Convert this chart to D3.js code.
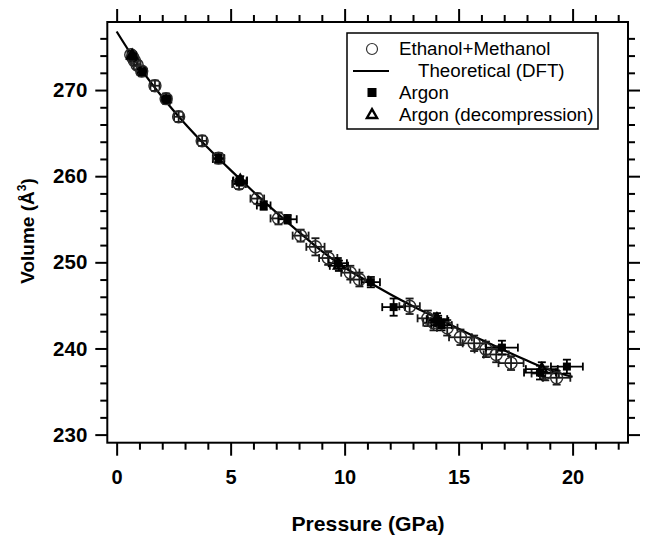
<!DOCTYPE html>
<html>
<head>
<meta charset="utf-8">
<script src="https://cdn.jsdelivr.net/npm/d3@7"></script>
<style>
  body { margin: 0; background: #fff; }
  text { font-family: "Liberation Sans", Arial, sans-serif; fill: #000; }
  .tick line { stroke: #000; stroke-width: 2px; }
  .axis text { font-weight: bold; }
</style>
</head>
<body>
<svg width="645" height="535"></svg>
<script>
// **** data ****

// Ethanol+Methanol (open circles)
var emP    = [0.62, 0.70, 0.78, 0.90, 1.10, 1.68, 2.17, 2.72, 3.75, 4.47, 5.37, 6.17, 7.10, 8.07, 8.72, 9.28, 10.25, 10.65, 12.85, 13.65, 13.90, 14.50, 15.08, 15.68, 16.20, 16.65, 17.30, 18.80, 19.30];
var emV    = [274.1, 273.8, 273.4, 272.9, 272.2, 270.5, 269.0, 266.9, 264.1, 262.1, 259.1, 257.4, 255.1, 253.1, 251.8, 250.5, 248.8, 248.0, 244.9, 243.5, 243.0, 242.4, 241.3, 240.6, 239.9, 239.3, 238.3, 237.1, 236.6];
var emPErr = [0.15, 0.15, 0.15, 0.15, 0.2, 0.2, 0.2, 0.2, 0.2, 0.25, 0.3, 0.3, 0.35, 0.35, 0.4, 0.4, 0.4, 0.4, 0.45, 0.45, 0.45, 0.45, 0.5, 0.5, 0.5, 0.55, 0.55, 0.6, 0.6];
var emVErr = [0.5, 0.5, 0.5, 0.5, 0.5, 0.6, 0.6, 0.6, 0.6, 0.6, 0.6, 0.6, 0.7, 0.7, 1.0, 0.8, 0.8, 0.8, 0.9, 0.9, 0.9, 0.9, 0.9, 0.9, 0.9, 0.9, 0.8, 0.8, 0.8];

// Argon (filled squares)
var arP    = [0.72, 1.12, 2.20, 4.47, 5.40, 6.45, 7.50, 9.70, 11.15, 12.15, 14.10, 14.25, 16.90, 18.57, 19.75];
var arV    = [273.9, 272.1, 268.9, 262.0, 259.4, 256.6, 255.0, 249.9, 247.7, 244.8, 243.2, 242.7, 240.1, 237.2, 237.9];
var arPErr = [0.15, 0.2, 0.2, 0.25, 0.3, 0.3, 0.4, 0.4, 0.4, 0.5, 0.45, 0.45, 0.7, 0.7, 0.7];
var arVErr = [0.5, 0.5, 0.5, 0.5, 0.5, 0.5, 0.5, 0.6, 0.6, 1.0, 0.6, 0.6, 0.8, 0.8, 0.8];

// Argon decompression (open triangles)
var adP    = [0.68, 5.42, 9.75, 14.05, 18.65];
var adV    = [274.0, 259.5, 249.6, 243.4, 237.6];
var adPErr = [0.15, 0.3, 0.4, 0.45, 0.7];
var adVErr = [0.5, 0.5, 0.6, 0.7, 0.8];

// Theoretical (DFT) curve
var dftP = [0, 1, 2, 3, 4, 5, 6, 7, 8, 9, 10, 11, 12, 13, 14, 15, 16, 17, 18, 19, 20];
var dftV = [276.8, 272.7, 269.2, 266.1, 263.3, 260.7, 258.2, 255.8, 253.5, 251.3, 249.4, 247.8, 246.3, 244.9, 243.6, 242.3, 241.0, 239.8, 238.6, 237.5, 236.7];

var xMajor = [0, 5, 10, 15, 20];
var xMinor = [1, 2, 3, 4, 6, 7, 8, 9, 11, 12, 13, 14, 16, 17, 18, 19, 21, 22];
var yMajor = [230, 240, 250, 260, 270];
var yMinor = [232, 234, 236, 238, 242, 244, 246, 248, 252, 254, 256, 258, 262, 264, 266, 268, 272, 274, 276];

var legendLabels = ['Ethanol+Methanol', 'Theoretical (DFT)', 'Argon', 'Argon (decompression)'];

// **** scales, axes and labels ****

var plotLeft = 107.3, plotRight = 628, plotTop = 22, plotBottom = 442.7;

var xScale = d3.scaleLinear().domain([-0.41, 22.43]).range([plotLeft, plotRight]);
var yScale = d3.scaleLinear().domain([229.06, 277.9]).range([plotBottom, plotTop]);

var svg = d3.select('svg');

function addAxis(axis, tx, ty) {
    var g = svg.append('g').attr('class', 'axis')
        .attr('transform', 'translate(' + tx + ',' + ty + ')')
        .call(axis);
    g.select('.domain').remove();
    return g;
}

// bottom
addAxis(d3.axisBottom(xScale).tickValues(xMajor).tickSize(13).tickPadding(14).tickFormat(d3.format('d')), 0, plotBottom)
    .selectAll('text').style('font-size', '20px');
addAxis(d3.axisBottom(xScale).tickValues(xMinor).tickSize(7).tickFormat(''), 0, plotBottom);
// top
addAxis(d3.axisTop(xScale).tickValues(xMajor).tickSize(13).tickFormat(''), 0, plotTop);
addAxis(d3.axisTop(xScale).tickValues(xMinor).tickSize(7).tickFormat(''), 0, plotTop);
// left
addAxis(d3.axisLeft(yScale).tickValues(yMajor).tickSize(12).tickPadding(8).tickFormat(d3.format('d')), plotLeft, 0)
    .selectAll('text').style('font-size', '20.5px');
addAxis(d3.axisLeft(yScale).tickValues(yMinor).tickSize(7).tickFormat(''), plotLeft, 0);
// right
addAxis(d3.axisRight(yScale).tickValues(yMajor).tickSize(12).tickFormat(''), plotRight, 0);
addAxis(d3.axisRight(yScale).tickValues(yMinor).tickSize(7).tickFormat(''), plotRight, 0);

svg.append('rect')
    .attr('x', plotLeft).attr('y', plotTop)
    .attr('width', plotRight - plotLeft).attr('height', plotBottom - plotTop)
    .attr('fill', 'none').attr('stroke', '#000').attr('stroke-width', 2);

svg.append('text')
    .text('Pressure (GPa)')
    .style('font-size', '20px').style('font-weight', 'bold')
    .attr('text-anchor', 'middle')
    .attr('transform', 'translate(368,531) scale(1.06,1)');

var yTitle = svg.append('text')
    .style('font-size', '19px').style('font-weight', 'bold')
    .attr('text-anchor', 'middle')
    .attr('transform', 'translate(33.5,231) rotate(-90)');
yTitle.append('tspan').text('Volume (Å');
yTitle.append('tspan').text('3').style('font-size', '12px').attr('dy', -8);
yTitle.append('tspan').text(')').attr('dy', 8);

// **** marks ****

var plot = svg.append('g');

var line = d3.line()
    .x(function(d, i) { return xScale(dftP[i]); })
    .y(function(d) { return yScale(d); })
    .curve(d3.curveMonotoneX);

plot.append('path')
    .attr('d', line(dftV))
    .attr('fill', 'none').attr('stroke', '#000').attr('stroke-width', 2.2);

function drawErrorBars(P, V, pe, ve, color) {
    var cap = 4;
    var g = plot.append('g').attr('stroke', color).attr('stroke-width', 1.8);
    P.forEach(function(p, i) {
        var cx = xScale(p), cy = yScale(V[i]);
        var x0 = xScale(p - pe[i]), x1 = xScale(p + pe[i]);
        var y0 = yScale(V[i] - ve[i]), y1 = yScale(V[i] + ve[i]);
        g.append('line').attr('x1', x0).attr('x2', x1).attr('y1', cy).attr('y2', cy);
        g.append('line').attr('x1', x0).attr('x2', x0).attr('y1', cy - cap).attr('y2', cy + cap);
        g.append('line').attr('x1', x1).attr('x2', x1).attr('y1', cy - cap).attr('y2', cy + cap);
        g.append('line').attr('x1', cx).attr('x2', cx).attr('y1', y0).attr('y2', y1);
        g.append('line').attr('x1', cx - cap).attr('x2', cx + cap).attr('y1', y0).attr('y2', y0);
        g.append('line').attr('x1', cx - cap).attr('x2', cx + cap).attr('y1', y1).attr('y2', y1);
    });
}

drawErrorBars(emP, emV, emPErr, emVErr, '#1a1a1a');
drawErrorBars(arP, arV, arPErr, arVErr, '#000');
drawErrorBars(adP, adV, adPErr, adVErr, '#000');

plot.selectAll('circle.em').data(emV).enter().append('circle')
    .attr('class', 'em')
    .attr('cx', function(d, i) { return xScale(emP[i]); })
    .attr('cy', function(d) { return yScale(d); })
    .attr('r', 6)
    .attr('fill', 'none').attr('stroke', '#2a2a2a').attr('stroke-width', 1.4);

plot.selectAll('rect.ar').data(arV).enter().append('rect')
    .attr('class', 'ar')
    .attr('x', function(d, i) { return xScale(arP[i]) - 4; })
    .attr('y', function(d) { return yScale(d) - 4; })
    .attr('width', 8).attr('height', 8)
    .attr('fill', '#000');

var tri = d3.symbol().type(d3.symbolTriangle).size(45);

plot.selectAll('path.ad').data(adV).enter().append('path')
    .attr('class', 'ad')
    .attr('d', tri)
    .attr('transform', function(d, i) { return 'translate(' + xScale(adP[i]) + ',' + yScale(d) + ')'; })
    .attr('fill', 'none').attr('stroke', '#000').attr('stroke-width', 2.2);

// **** legend ****

var legend = svg.append('g');

legend.append('rect')
    .attr('x', 347).attr('y', 33).attr('width', 251).attr('height', 96)
    .attr('fill', '#fff').attr('stroke', '#000').attr('stroke-width', 1.5);

legend.append('circle').attr('cx', 372).attr('cy', 49).attr('r', 5.5)
    .attr('fill', 'none').attr('stroke', '#333').attr('stroke-width', 1.2);
legend.append('line').attr('x1', 353).attr('x2', 389).attr('y1', 71).attr('y2', 71)
    .attr('stroke', '#000').attr('stroke-width', 2);
legend.append('rect').attr('x', 367.5).attr('y', 88).attr('width', 9).attr('height', 9).attr('fill', '#000');
legend.append('path').attr('d', tri).attr('transform', 'translate(372,115)')
    .attr('fill', 'none').attr('stroke', '#000').attr('stroke-width', 2.4);

legendLabels.forEach(function(label, i) {
    var tx = i === 1 ? 418 : 399;
    legend.append('text')
        .text(label)
        .style('font-size', '17.5px')
        .attr('transform', 'translate(' + tx + ',' + (55 + i * 22) + ') scale(1.07,1)');
});
</script>
</body>
</html>
